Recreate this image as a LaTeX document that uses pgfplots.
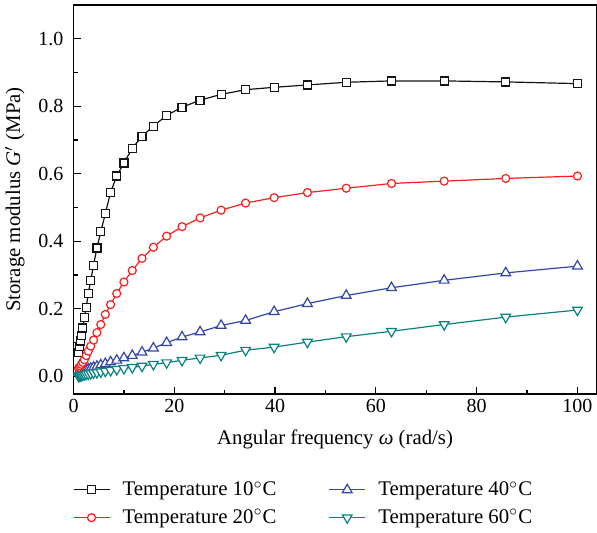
\documentclass[border=0pt]{standalone}
\usepackage{fontspec}
\setmainfont{Liberation Serif}
\usepackage{pgfplots}
\usepackage{pgfplotstable}
\pgfplotsset{compat=1.18}

\definecolor{c10}{RGB}{20,20,20}
\definecolor{c20}{RGB}{250,30,30}
\definecolor{c40}{RGB}{50,70,170}
\definecolor{c60}{RGB}{10,128,128}

% omega (rad/s) and G' (MPa) at 10, 20, 40, 60 C
\pgfplotstableread{
w      T10    T20    T40    T60
1.000  0.071  0.024  0.010  0.000
1.166  0.089  0.026  0.011  0.001
1.359  0.104  0.030  0.012  0.002
1.585  0.121  0.035  0.013  0.003
1.848  0.143  0.041  0.015  0.004
2.154  0.173  0.049  0.017  0.005
2.512  0.203  0.061  0.019  0.006
2.929  0.245  0.074  0.021  0.007
3.415  0.284  0.089  0.023  0.008
3.981  0.329  0.107  0.026  0.010
4.642  0.380  0.129  0.029  0.011
5.412  0.428  0.153  0.033  0.013
6.310  0.481  0.183  0.037  0.015
7.356  0.545  0.212  0.042  0.017
8.577  0.593  0.245  0.047  0.020
10.00  0.632  0.279  0.054  0.023
11.66  0.675  0.313  0.061  0.026
13.59  0.711  0.349  0.071  0.030
15.85  0.741  0.382  0.083  0.035
18.48  0.773  0.415  0.099  0.040
21.54  0.797  0.443  0.116  0.047
25.12  0.818  0.469  0.131  0.054
29.29  0.835  0.492  0.150  0.062
34.15  0.849  0.513  0.165  0.077
39.81  0.856  0.529  0.191  0.086
46.42  0.863  0.544  0.215  0.101
54.12  0.871  0.557  0.239  0.117
63.10  0.875  0.571  0.262  0.133
73.56  0.875  0.578  0.284  0.153
85.77  0.872  0.586  0.306  0.175
100.0  0.867  0.593  0.326  0.196
}\modulus

\begin{document}
\begin{tikzpicture}
\begin{axis}[
  scale only axis,
  width=261.5pt, height=194.5pt,
  xmin=0, xmax=103.8,
  ymin=-0.053, ymax=1.10,
  xtick={0,20,...,100},
  minor xtick={10,30,...,90},
  ytick={0,0.2,...,1.0},
  minor ytick={0.1,0.3,...,0.9},
  tick align=inside,
  xtick pos=bottom, ytick pos=left,
  major tick length=3.5pt, minor tick length=2pt,
  axis line style={line width=0.7pt},
  every tick/.style={line width=0.6pt, black},
  /pgf/number format/assume math mode=true,
  ticklabel style={font=\fontsize{10}{12}\selectfont},
  yticklabel style={/pgf/number format/fixed, /pgf/number format/fixed zerofill,
    /pgf/number format/precision=1, xshift=-1.5pt},
  xticklabel style={yshift=1pt},
  label style={font=\fontsize{10.4}{12.5}\selectfont},
  xlabel={Angular frequency \textit{ω} (rad/s)},
  ylabel={Storage modulus \textit{G}$'$ (MPa)},
  xlabel style={yshift=-2pt},
  legend columns=2,
  legend cell align=left,
  legend image code/.code={
    \draw[mark repeat=2, mark phase=2, #1] plot coordinates {(0pt,0pt) (9pt,0pt) (18pt,0pt)};},
  legend style={draw=none, fill=none, at={(0,0)}, anchor=north west,
    xshift=-3.5pt, yshift=-39.5pt, row sep=1.5pt, font=\fontsize{10.4}{12.5}\selectfont,
    /tikz/every odd column/.append style={column sep=4.3pt},
    /tikz/every even column/.append style={column sep=24pt}},
  every axis plot/.append style={line width=0.6pt, mark size=2pt},
]
\addplot[c10, mark=square*, mark options={fill=white, solid}] table[x=w, y=T10] {\modulus};
\addlegendentry{Temperature 10$^\circ$C}
\addplot[c40, mark=triangle*, mark size=2.8pt, mark options={fill=white, solid}] table[x=w, y=T40] {\modulus};
\addlegendentry{Temperature 40$^\circ$C}
\addplot[c20, mark=*, mark options={fill=white, solid}] table[x=w, y=T20] {\modulus};
\addlegendentry{Temperature 20$^\circ$C}
\addplot[c60, mark=triangle*, mark size=2.8pt, mark options={fill=white, solid, rotate=180}] table[x=w, y=T60] {\modulus};
\addlegendentry{Temperature 60$^\circ$C}
\end{axis}
\pgfresetboundingbox
\path ([xshift=-36.75pt,yshift=-69pt]current axis.south west) rectangle ([xshift=0.2pt,yshift=2.5pt]current axis.north east);
\end{tikzpicture}
\end{document}
